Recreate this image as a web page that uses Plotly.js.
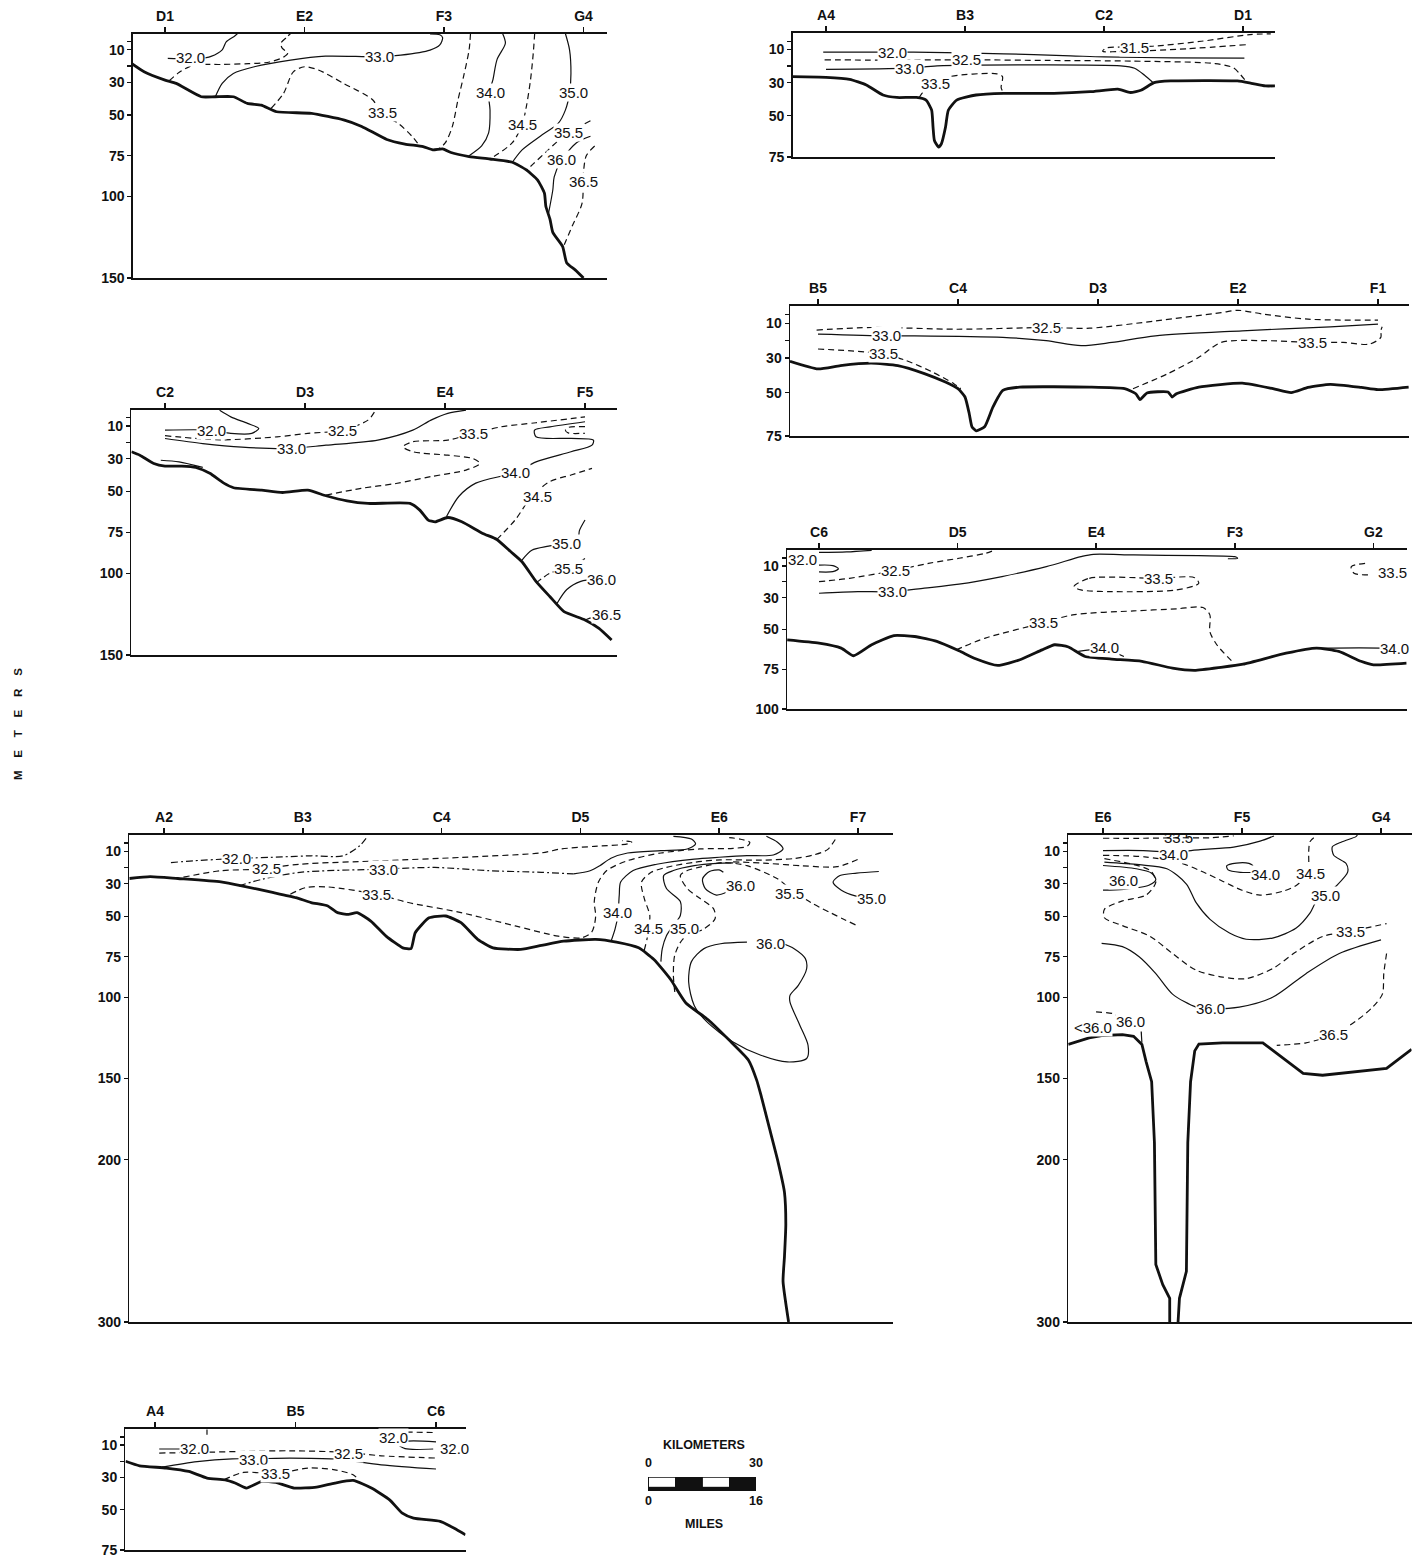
<!DOCTYPE html>
<html><head><meta charset="utf-8">
<script src="https://cdn.plot.ly/plotly-3.0.1.min.js"></script>
<style>html,body{margin:0;padding:0;background:#fff}#chart{width:1425px;height:1558px}</style>
</head><body><div id="chart"></div>
<script>
// ================= DATA (x = distance in station intervals, d = depth in metres) =================
// ---- Panel 1: D1-G4 ----
const p1_st = ['D1','E2','F3','G4'];
const p1_bot_x = [-0.24,-0.15,0,0.08,0.26,0.36,0.49,0.59,0.69,0.8,1.05,1.28,1.41,1.59,1.72,1.85,1.92,1.99,2.05,2.18,2.33,2.49,2.59,2.67,2.72,2.73,2.76,2.78,2.85,2.88,2.94,3.0];
const p1_bot_d = [18.4,23.5,28.6,30.6,38.8,38.8,38.8,42.9,43.9,48,49,53,57,65,67.8,69.4,71.4,70.8,73,75.5,77,79,83.7,89.8,98,106,114,122,130.6,140.8,145,150];
const p1_320_x = [0.02,0.25,0.33,0.41,0.44,0.5,0.52];
const p1_320_d = [15.3,15.3,14,10,5,1.5,0];
const p1_325_x = [0.03,0.1,0.2,0.4,0.6,0.75,0.85,0.88,0.84,0.83,0.87,0.9];
const p1_325_d = [29,24,19.5,19,18.5,17.5,14.5,12,9,6,2.5,0];
const p1_330_x = [0.36,0.41,0.49,0.64,0.9,1.15,1.53,1.69,1.9,1.97,1.99,1.97,1.9];
const p1_330_d = [39,30.6,24.5,20.4,16.3,13.9,14.3,13.3,10.2,7,2.5,0.8,0.2];
const p1_335a_x = [0.76,0.85,0.92,1.0,1.1,1.28,1.49,1.55,1.67,1.77,1.82];
const p1_335a_d = [46,36.7,23.5,20.4,22.4,30.6,40.8,49,55,63,68.4];
const p1_335b_x = [2.19,2.18,2.14,2.1,2.06,2.01,1.96];
const p1_335b_d = [0,10,26.5,40.8,57,67,71];
const p1_340_x = [2.42,2.44,2.38,2.35,2.32,2.33,2.32,2.27,2.18];
const p1_340_d = [0,6,16,28.6,37.3,47,61,69,75];
const p1_345_x = [2.65,2.64,2.62,2.59,2.56,2.49,2.33];
const p1_345_d = [0,12,28.6,45,56,67,77];
const p1_350_x = [2.87,2.9,2.91,2.9,2.87,2.82,2.69,2.56,2.49];
const p1_350_d = [0,10,24.5,36.7,47,55,63,71.4,79];
const p1_355_x = [3.05,2.95,2.87,2.74,2.64,2.59];
const p1_355_d = [53.5,58,62,72,80,84];
const p1_360_x = [3.05,2.95,2.84,2.79,2.78,2.75];
const p1_360_d = [63,67,78,88,96,110];
const p1_365_x = [3.08,3.02,3.0,2.99,2.92,2.86];
const p1_365_d = [69,75,85,104,118,130];
const p1_lab_t = ['32.0','33.0','33.5','34.0','34.5','35.0','35.5','36.0','36.5'];
const p1_lab_x = [0.18,1.54,1.56,2.33,2.56,2.93,2.89,2.84,3.0];
const p1_lab_d = [15,14,48.5,36,56,36.5,61,77,91];

// ---- Panel 2: A4-D1 ----
const p2_st = ['A4','B3','C2','D1'];
const p2_bot_x = [-0.24,0,0.17,0.29,0.41,0.51,0.65,0.72,0.76,0.77,0.78,0.81,0.83,0.86,0.88,0.94,1.08,1.28,1.64,1.9,2.1,2.19,2.27,2.36,2.48,2.96,3.06,3.16,3.23];
const p2_bot_d = [26.4,26.8,28,31.4,37.5,39,39,40.6,46.7,56.8,65,69,67,56.8,46.7,40.6,37.5,36.5,36.5,35.5,34,36,34.5,30,29,29,30.4,32,32];
const p2_315_x = [3.02,2.6,2.1,1.99,2.02,2.1,2.35,2.7,3.05,3.2];
const p2_315_d = [7.1,9.5,11.3,11,9,8.5,8,5,1,0.5];
const p2_320_x = [-0.02,0.48,0.63,1.28,1.76,2.0,2.5,3.01];
const p2_320_d = [11.6,11.6,11.6,12.6,13.8,14.5,15,15.2];
const p2_325_x = [-0.01,0.4,1.0,1.6,2.2,2.8,2.93,2.98,3.02];
const p2_325_d = [16.2,16.4,16.2,16.6,17,18.5,21,25,29];
const p2_330_x = [0,0.59,0.8,1.52,2.12,2.22,2.29,2.35];
const p2_330_d = [22,21.3,19.9,19.3,19.9,21.3,25.4,29.8];
const p2_335_x = [0.67,0.72,0.78,0.89,1.23,1.27,1.26,1.28];
const p2_335_d = [39,33.5,30.4,26.4,24.7,26.4,33,36.5];
const p2_lab_t = ['32.0','31.5','32.5','33.0','33.5'];
const p2_lab_x = [0.48,2.22,1.01,0.6,0.79];
const p2_lab_d = [11.6,8.5,16.3,21.6,30.4];

// ---- Panel 3: C2-F5 ----
const p3_st = ['C2','D3','E4','F5'];
const p3_bot_x = [-0.24,-0.18,-0.08,0,0.12,0.22,0.32,0.42,0.49,0.69,0.84,1.02,1.15,1.3,1.45,1.75,1.82,1.88,1.93,2.02,2.12,2.27,2.37,2.47,2.55,2.65,2.75,2.85,3.0,3.1,3.19];
const p3_bot_d = [25.8,27.9,33,34.6,34.6,35.4,39,45,47.8,49.3,50.7,49.3,52.7,55.8,57.4,57.4,61.5,67.6,68.6,66,68.6,75.7,79.4,86.9,93,105,114.4,123.5,128.6,133.7,140.8];
const p3_335s_x = [-0.03,0.1,0.27];
const p3_335s_d = [31,32,35.4];
const p3_320_x = [0,0.32,0.47,0.62,0.67,0.59,0.47,0.39];
const p3_320_d = [12.6,12.6,14.6,14.6,11.6,8.5,4.5,0.5];
const p3_325_x = [0,0.4,0.8,1.02,1.27,1.45,1.5];
const p3_325_d = [16,18.5,16.7,14.6,12.6,6.5,1];
const p3_330_x = [0,0.27,0.55,0.9,1.15,1.52,1.77,1.9,2.02,2.15];
const p3_330_d = [17.7,20.8,23,23.8,21.8,18.7,12.6,6.5,2.4,0.4];
const p3_335_x = [1.15,1.4,1.65,1.9,2.15,2.25,2.2,2.02,1.77,1.7,1.77,2.02,2.19,2.4,2.65,3.0];
const p3_335_d = [52.3,48.2,45.2,41,37,33,30,27.9,25.8,22.8,19.7,18.7,14.9,10.6,8.1,4.5];
const p3_340_x = [2.01,2.1,2.22,2.5,2.65,2.9,3.05,3.06,2.9,2.65,2.64,2.75,3.0];
const p3_340_d = [65.5,53,45,38.5,32,25.8,21.8,18.7,17.7,16.7,12.6,10.6,7.5];
const p3_345s_x = [3.0,2.88,2.86,2.88,3.0];
const p3_345s_d = [10.5,11,12.6,14.3,14.5];
const p3_345_x = [2.37,2.5,2.62,2.75,2.9,3.05];
const p3_345_d = [79.4,67.6,53,44,40,36];
const p3_350_x = [2.55,2.62,2.74,2.87,2.95,2.96,3.0];
const p3_350_d = [92,86,83.5,81.5,79,74,67.5];
const p3_355_x = [2.65,2.75,2.87,3.0];
const p3_355_d = [106,100,97,91];
const p3_360_x = [2.8,2.87,2.97,3.08];
const p3_360_d = [118.5,110,105,104];
const p3_365_x = [3.0,3.08];
const p3_365_d = [128.6,126];
const p3_lab_t = ['32.0','32.5','33.0','33.5','34.0','34.5','35.0','35.5','36.0','36.5'];
const p3_lab_x = [0.33,1.27,0.9,2.2,2.5,2.66,2.87,2.88,3.12,3.15];
const p3_lab_d = [12.6,12.6,23.8,14.8,38.5,53,82,97,104,125.5];

// ---- Panel 4: B5-F1 ----
const p4_st = ['B5','C4','D3','E2','F1'];
const p4_bot_x = [-0.2,0,0.16,0.38,0.57,0.76,0.91,1.0,1.05,1.08,1.1,1.13,1.19,1.25,1.32,1.44,1.94,2.19,2.27,2.3,2.35,2.5,2.53,2.56,2.72,3.03,3.25,3.38,3.5,3.66,3.88,4.0,4.22];
const p4_bot_d = [31.9,36.3,34.4,33,34.4,39,43.9,47.7,52.5,62,69.7,72,69.7,58.2,48.7,46.8,46.8,47.7,50.6,54,50.2,49.6,52.5,50.6,46.8,44.5,47.7,50,47,45.2,47,48.3,46.8];
const p4_325_x = [-0.01,0.38,1.0,1.63,1.94,2.41,2.88,3.0,3.19,3.5,4.0];
const p4_325_d = [13.9,12.4,13.4,12.4,12.8,8.6,3.8,2.5,4.8,7.6,8.2];
const p4_330_x = [0,0.49,0.69,1.32,1.63,1.88,2.1,2.41,3.03,3.66,4.0];
const p4_330_d = [16.2,17.2,17.2,18.1,20,22.9,21,17.2,14.3,12,10.5];
const p4_335a_x = [0,0.47,0.63,0.82,0.97,1.02];
const p4_335a_d = [24.8,27.7,31.5,38.2,44.8,47.7];
const p4_335b_x = [2.25,2.5,2.72,2.88,3.19,3.53,3.75,3.94,4.02,4.02,4.03];
const p4_335b_d = [47.7,39,29.6,21,20,21,21,22,18.1,14.3,12];
const p4_lab_t = ['32.5','33.0','33.5','33.5'];
const p4_lab_x = [1.63,0.49,0.47,3.53];
const p4_lab_d = [12.4,17.2,27.5,21];

// ---- Panel 5: C6-G2 ----
const p5_st = ['C6','D5','E4','F3','G2'];
const p5_bot_x = [-0.23,0,0.16,0.25,0.38,0.54,0.69,0.85,1.01,1.13,1.29,1.45,1.61,1.7,1.8,1.92,2.11,2.33,2.55,2.71,2.9,3.06,3.37,3.59,3.75,3.91,4.0,4.24];
const p5_bot_d = [56.5,58.6,61.7,66.5,59.6,53.8,54.4,57.5,63.4,68.4,72.6,69,62.8,59.6,61,67,68.6,70,74.3,75.7,73.8,71.8,64.9,61.7,63.8,70,72.2,71.1];
const p5_320_x = [0.0,0.1,0.14,0.1,0.0];
const p5_320_d = [9.5,9.8,11.8,13.6,13.8];
const p5_320s_x = [0.0,0.2,0.38];
const p5_320s_d = [1.5,1.2,0.2];
const p5_325_x = [0,0.22,0.54,0.79,1.01,1.2,1.26];
const p5_325_d = [19.9,17.8,13,8.4,5.2,2.1,0.3];
const p5_330_x = [0,0.28,0.52,0.76,1.01,1.32,1.64,1.89,1.98,2.27,2.74,3.0,3.02,2.95];
const p5_330_d = [27.2,26.2,26.2,24,21.5,16.7,10.5,4.2,2.7,3.1,3.6,4.2,5.2,5.5];
const p5_335l_x = [1.84,1.95,2.44,2.71,2.74,2.58,2.11,1.89,1.84];
const p5_335l_d = [23,17.8,17.8,17.4,21,25.1,26.2,25.1,23];
const p5_335_x = [0.99,1.2,1.61,1.83,2.27,2.58,2.77,2.82,2.82,2.87,2.98];
const p5_335_d = [62.8,55.4,46,40.8,38.3,37,36.2,40.8,51.3,59.6,70];
const p5_335g_x = [3.94,3.84,3.86,3.97];
const p5_335g_d = [8.4,10.5,14.6,15.7];
const p5_340a_x = [1.87,2.06,2.2];
const p5_340a_d = [63.8,62.5,67];
const p5_340b_x = [3.62,3.9,4.13];
const p5_340b_d = [61.7,61.5,61.7];
const p5_lab_t = ['32.0','32.5','33.0','33.5','33.5','34.0','34.0','33.5'];
const p5_lab_x = [-0.12,0.55,0.53,2.45,1.62,2.06,4.15,4.14];
const p5_lab_d = [6,13,26,17.8,45.5,61.5,61.7,14.2];

// ---- Panel 6: A2-F7 ----
const p6_st = ['A2','B3','C4','D5','E6','F7'];
const p6_bot_x = [-0.25,-0.1,0.1,0.41,0.56,0.79,0.95,1.06,1.18,1.25,1.33,1.39,1.49,1.6,1.72,1.78,1.81,1.91,2.03,2.14,2.26,2.37,2.57,2.72,2.88,3.11,3.26,3.42,3.53,3.65,3.76,3.92,4.07,4.21,4.27,4.3,4.36,4.42,4.47,4.48,4.47,4.46,4.5];
const p6_bot_d = [26.8,25.6,26.8,28.9,31.3,35.5,38.6,41.6,43.7,47.8,48.9,47.8,53,62.3,69.5,70,60.2,51,49.9,54,64.3,69.5,70.5,68,65.4,64.3,66,69.5,76.7,89,103.5,113.8,126.2,138.6,151,160,180,200,220,240,260,275,300];
const p6_320_x = [0.05,0.21,0.52,0.85,1.06,1.29,1.41,1.47];
const p6_320_d = [17,15.9,14.5,13.5,12.8,12.8,6.6,0.4];
const p6_325_x = [0.14,0.41,0.69,0.98,1.56,2.14,2.72,2.86,3.1,3.34,3.37,3.3];
const p6_325_d = [26,22,21,18,15.9,13.8,11,8.6,7,5.5,4.3,3.5];
const p6_330a_x = [0.54,0.71,0.98,1.58,1.95,2.34,2.72,2.95];
const p6_330a_d = [31.3,27.2,23,21,20,22,23,24];
const p6_330b_x = [2.95,3.07,3.14,3.22,3.34,3.58,3.77,3.83,3.8,3.67];
const p6_330b_d = [24,22,18.9,14.3,11.1,9.6,8.6,5.5,2.5,0.8];
const p6_335_x = [0.91,1.02,1.18,1.53,1.76,2.14,2.53,2.84,3.01,3.08,3.1,3.11,3.1,3.13,3.19,3.34,3.58,3.86,4.1,4.2,4.22,4.15,4.05];
const p6_335_d = [36.5,32.4,32,36.5,41.6,47.8,56,62.3,63.3,60,55.7,49.6,41,29,21.9,15.8,11.1,8.6,8.2,7,4.5,2.5,1.5];
const p6_340_x = [3.22,3.25,3.27,3.28,3.29,3.38,3.55,3.82,4.0,4.2,4.39,4.46,4.42,4.34];
const p6_340_d = [65.6,57.8,49.6,37,29,21.9,18,14.8,13.7,12.7,12.3,8.6,4.5,0.8];
const p6_345_x = [3.46,3.48,3.49,3.5,3.46,3.44,3.51,3.62,3.82,4.01,4.3,4.54,4.68,4.78,4.85];
const p6_345_d = [71,64,57.8,49.6,39,29,23,19.9,16.8,15.3,15.5,14.5,12.3,9,0.8];
const p6_350_x = [3.58,3.59,3.62,3.67,3.72,3.72,3.62,3.6,3.67,3.82,3.98,4.1];
const p6_350_d = [78,70,62,55.7,49.6,41,33,25,21.9,18.9,17.5,17.2];
const p6_35x_x = [4.1,4.35,4.6,4.85,5.0];
const p6_35x_d = [16.5,17.5,19,19.5,15];
const p6_355_x = [3.68,3.67,3.68,3.74,3.89,3.97,3.96,3.86,3.77,3.72,3.77,3.91,4.03,4.2,4.42,4.51,4.66,4.99];
const p6_355_d = [96.7,86.5,74,64,57.8,51.6,45.5,39,33,25,21.9,18.9,17,18.9,27,33,41.6,55.7];
const p6_360a_x = [4.06,3.98,3.9,3.88,3.93,4.0,4.03];
const p6_360a_d = [35,37,33,27,22.5,21.5,23];
const p6_360b_x = [4.2,4.01,3.89,3.8,3.78,3.82,3.91,4.1,4.3,4.49,4.63,4.64,4.58,4.51,4.51,4.57,4.63,4.62,4.54,4.45];
const p6_360b_d = [66,67,70,78,90.6,105,115,127.5,135.7,139.8,137.7,129.5,117,103,98.8,92.6,82.4,76,70,66.5];
const p6_350f_x = [5.15,4.99,4.87,4.82,4.88,4.98,5.02];
const p6_350f_d = [22.5,23.5,25,29,34,37.5,38];
const p6_lab_t = ['32.0','32.5','33.0','33.5','34.0','34.5','35.0','36.0','35.5','35.0','36.0'];
const p6_lab_x = [0.52,0.74,1.58,1.53,3.27,3.49,3.75,4.15,4.51,5.1,4.37];
const p6_lab_d = [14.5,20.5,21,36.5,47.5,57.8,57.8,31,36,39,66.6];

// ---- Panel 7: E6-G4 ----
const p7_st = ['E6','F5','G4'];
const p7_botL_x = [-0.25,-0.1,0,0.14,0.22,0.28,0.31,0.35,0.37,0.38,0.43,0.48,0.48];
const p7_botL_d = [129,125,123.5,123,124,129,139.6,152,189.6,264.6,277,285.4,300];
const p7_botR_x = [0.54,0.55,0.6,0.61,0.63,0.66,0.69,0.86,1.15,1.44,1.58,1.82,2.04,2.22];
const p7_botR_d = [300,285.4,268.8,189.6,152,133,128.75,128,128,146.9,148,145.8,143.75,132];
const p7_335t_x = [0,0.3,0.54,0.77,0.94];
const p7_335t_d = [2,2,1.7,1.7,0.5];
const p7_340_x = [0,0.29,0.51,0.7,0.94,1.13,1.23];
const p7_340_d = [9.6,9.6,10.5,9,7.5,3.75,0.6];
const p7_345_x = [0,0.3,0.55,0.7,0.85,1.0,1.13,1.3,1.4,1.47,1.48,1.48,1.49,1.54];
const p7_345_d = [12.5,13.5,17,22,28,34,37,34.5,30.5,23.5,18,10,4,0.3];
const p7_340l_x = [1.1,0.99,0.9,0.89,0.96,1.05,1.08];
const p7_340l_d = [23,23,21.5,19,17.3,17.5,19];
const p7_350_x = [0.01,0.26,0.46,0.6,0.67,0.77,0.91,1.03,1.22,1.39,1.49,1.53,1.6,1.68,1.76,1.75,1.66,1.65,1.72,1.82,1.83];
const p7_350_d = [16.7,18.3,20.8,30.2,41.7,52,60.4,64.2,63.5,57.3,48,41.7,37.5,31.25,22.9,17.7,12.5,7.3,4.2,1,0];
const p7_360s_x = [0,0.15,0.33,0.38,0.35,0.24,0.0];
const p7_360s_d = [34,33.5,31,27.5,23.5,20.8,18.8];
const p7_355_x = [0.01,0.34,0.38,0.31,0.14,0.01,0.01,0.14,0.34,0.5,0.67,0.86,1.03,1.22,1.39,1.58,1.77,2.04];
const p7_355_d = [14.6,21.9,29,37,40.6,45.8,51,55.8,62.5,73,83.3,87.5,88.5,82.3,71.9,62.5,59.4,54.6];
const p7_360_x = [-0.01,0.14,0.26,0.38,0.5,0.67,0.77,0.98,1.22,1.46,1.7,2.0];
const p7_360_d = [66.7,68.75,75,85.4,98,106,107,106,100,85.4,73,64.6];
const p7_365_x = [2.04,2.02,2.01,1.94,1.82,1.66,1.46,1.25];
const p7_365_d = [73,85.4,98,106,114.6,123,128,129.6];
const p7_360d_x = [-0.05,0.07,0.12];
const p7_360d_d = [109,110,112];
const p7_360v_x = [0.275,0.28];
const p7_360v_d = [121,128];
const p7_lab_t = ['33.5','34.0','34.0','34.5','36.0','35.0','33.5','36.0','36.5','36.0','<36.0'];
const p7_lab_x = [0.54,0.51,1.17,1.49,0.15,1.6,1.78,0.77,1.66,0.2,-0.07];
const p7_lab_d = [1.6,11.8,24.5,23.5,28,37.5,59.4,107,123,114.6,118.5];

// ---- Panel 8: A4-C6 ----
const p8_st = ['A4','B5','C6'];
const p8_bot_x = [-0.21,-0.11,0.08,0.24,0.37,0.5,0.57,0.65,0.76,0.86,0.99,1.15,1.28,1.41,1.54,1.67,1.76,1.84,2.03,2.13,2.21];
const p8_bot_d = [20,22.8,24.2,26.3,30.4,31.5,33.5,36.6,32.5,33.1,36.6,36,33.5,31.9,36.6,43.9,52.2,55.3,57.3,61.5,65.6];
const p8_320_x = [0.03,0.2];
const p8_320_d = [12.4,12.4];
const p8_320t_x = [0.37,0.37];
const p8_320t_d = [0.3,3.5];
const p8_325_x = [0.03,0.31,0.63,0.96,1.37,1.61,2.0];
const p8_325_d = [14.9,14.5,13.9,13.5,14.5,16.6,18];
const p8_330_x = [0.05,0.3,0.55,0.7,0.96,1.28,1.61,2.0];
const p8_330_d = [23.6,20.2,18.5,18.5,18,18.6,22.2,24.8];
const p8_335_x = [0.49,0.63,0.86,1.09,1.28,1.41,1.45];
const p8_335_d = [31.5,26.9,27.7,24.2,25.3,28.4,31.5];
const p8_320l_x = [2.0,1.8,1.73,1.78,1.98];
const p8_320l_d = [8,7.5,9.5,12.2,12.4];
const p8_320s_x = [1.72,2.0];
const p8_320s_d = [1.8,2.2];
const p8_lab_t = ['32.0','33.0','33.5','32.5','32.0','32.0'];
const p8_lab_x = [0.28,0.7,0.86,1.38,1.7,2.13];
const p8_lab_d = [11.8,19,27.5,15,5.5,12];

// depth tick values (labelled ones) and scale bar values
const depthLabels = [10,30,50,75,100,150,200,300];
const depthMinor = [5,20];
const scaleKm = [0,7.5,15,22.5,30];
const scaleText = {km:'KILOMETERS', mi:'MILES', km0:'0', km1:'30', mi0:'0', mi1:'16'};

// ================= LAYOUT CONFIG (pixel placement) =================
const W = 1425, H = 1558;
const FONT = '"Liberation Sans", Arial, sans-serif';
const INK = '#111';
const panels = [
  {st:p1_st, st0:165, sp:139.5, umin:-0.23, umax:3.17, top:33.5, bot:278,  dmax:150},
  {st:p2_st, st0:826, sp:139,   umin:-0.24, umax:3.23, top:33,   bot:157,  dmax:75},
  {st:p3_st, st0:165, sp:140,   umin:-0.24, umax:3.23, top:409.5,bot:655,  dmax:150},
  {st:p4_st, st0:818, sp:140,   umin:-0.2,  umax:4.22, top:306,  bot:436,  dmax:75},
  {st:p5_st, st0:819, sp:138.6, umin:-0.23, umax:4.24, top:550,  bot:709,  dmax:100},
  {st:p6_st, st0:164, sp:138.8, umin:-0.25, umax:5.25, top:835,  bot:1322, dmax:300},
  {st:p7_st, st0:1103,sp:139,   umin:-0.25, umax:2.22, top:835,  bot:1322, dmax:300},
  {st:p8_st, st0:155, sp:140.5, umin:-0.21, umax:2.21, top:1429, bot:1550, dmax:75}
];

const STY = {
  bottom:  {w:2.8, dash:'solid', shape:'spline', sm:0.5},
  bottomL: {w:2.8, dash:'solid', shape:'linear', sm:0},
  solid:   {w:1.2, dash:'solid', shape:'spline', sm:0.8},
  dash:    {w:1.2, dash:'6px,4px', shape:'spline', sm:0.8},
  dashdot: {w:1.2, dash:'7px,3px,2px,3px', shape:'spline', sm:0.8}
};

const lines = [
  [1,p1_bot_x,p1_bot_d,'bottom'],[1,p1_320_x,p1_320_d,'solid'],[1,p1_325_x,p1_325_d,'dash'],[1,p1_330_x,p1_330_d,'solid'],
  [1,p1_335a_x,p1_335a_d,'dash'],[1,p1_335b_x,p1_335b_d,'dash'],[1,p1_340_x,p1_340_d,'solid'],[1,p1_345_x,p1_345_d,'dash'],
  [1,p1_350_x,p1_350_d,'solid'],[1,p1_355_x,p1_355_d,'dash'],[1,p1_360_x,p1_360_d,'solid'],[1,p1_365_x,p1_365_d,'dash'],
  [2,p2_bot_x,p2_bot_d,'bottom'],[2,p2_315_x,p2_315_d,'dash'],[2,p2_320_x,p2_320_d,'solid'],[2,p2_325_x,p2_325_d,'dash'],
  [2,p2_330_x,p2_330_d,'solid'],[2,p2_335_x,p2_335_d,'dash'],
  [3,p3_bot_x,p3_bot_d,'bottom'],[3,p3_335s_x,p3_335s_d,'solid'],[3,p3_320_x,p3_320_d,'solid'],[3,p3_325_x,p3_325_d,'dash'],
  [3,p3_330_x,p3_330_d,'solid'],[3,p3_335_x,p3_335_d,'dash'],[3,p3_340_x,p3_340_d,'solid'],[3,p3_345s_x,p3_345s_d,'dash'],
  [3,p3_345_x,p3_345_d,'dash'],[3,p3_350_x,p3_350_d,'solid'],[3,p3_355_x,p3_355_d,'dash'],[3,p3_360_x,p3_360_d,'solid'],
  [3,p3_365_x,p3_365_d,'dash'],
  [4,p4_bot_x,p4_bot_d,'bottom'],[4,p4_325_x,p4_325_d,'dash'],[4,p4_330_x,p4_330_d,'solid'],[4,p4_335a_x,p4_335a_d,'dash'],
  [4,p4_335b_x,p4_335b_d,'dash'],
  [5,p5_bot_x,p5_bot_d,'bottom'],[5,p5_320_x,p5_320_d,'solid'],[5,p5_320s_x,p5_320s_d,'solid'],[5,p5_325_x,p5_325_d,'dash'],
  [5,p5_330_x,p5_330_d,'solid'],[5,p5_335l_x,p5_335l_d,'dash'],[5,p5_335_x,p5_335_d,'dash'],[5,p5_335g_x,p5_335g_d,'dash'],
  [5,p5_340a_x,p5_340a_d,'solid'],[5,p5_340b_x,p5_340b_d,'solid'],
  [6,p6_bot_x,p6_bot_d,'bottom'],[6,p6_320_x,p6_320_d,'dashdot'],[6,p6_325_x,p6_325_d,'dash'],[6,p6_330a_x,p6_330a_d,'dashdot'],
  [6,p6_330b_x,p6_330b_d,'solid'],[6,p6_335_x,p6_335_d,'dash'],[6,p6_340_x,p6_340_d,'solid'],[6,p6_345_x,p6_345_d,'dash'],
  [6,p6_350_x,p6_350_d,'solid'],[6,p6_35x_x,p6_35x_d,'dash'],[6,p6_355_x,p6_355_d,'dash'],[6,p6_360a_x,p6_360a_d,'solid'],
  [6,p6_360b_x,p6_360b_d,'solid'],[6,p6_350f_x,p6_350f_d,'solid'],
  [7,p7_botL_x,p7_botL_d,'bottomL'],[7,p7_botR_x,p7_botR_d,'bottomL'],[7,p7_335t_x,p7_335t_d,'dash'],[7,p7_340_x,p7_340_d,'solid'],
  [7,p7_345_x,p7_345_d,'dash'],[7,p7_340l_x,p7_340l_d,'solid'],[7,p7_350_x,p7_350_d,'solid'],[7,p7_360s_x,p7_360s_d,'solid'],
  [7,p7_355_x,p7_355_d,'dash'],[7,p7_360_x,p7_360_d,'solid'],[7,p7_365_x,p7_365_d,'dash'],[7,p7_360d_x,p7_360d_d,'dash'],
  [7,p7_360v_x,p7_360v_d,'solid'],
  [8,p8_bot_x,p8_bot_d,'bottom'],[8,p8_320_x,p8_320_d,'solid'],[8,p8_320t_x,p8_320t_d,'solid'],[8,p8_325_x,p8_325_d,'dash'],
  [8,p8_330_x,p8_330_d,'solid'],[8,p8_335_x,p8_335_d,'dash'],[8,p8_320l_x,p8_320l_d,'solid'],[8,p8_320s_x,p8_320s_d,'dash']
];
const labels = [
  [1,p1_lab_t,p1_lab_x,p1_lab_d],[2,p2_lab_t,p2_lab_x,p2_lab_d],[3,p3_lab_t,p3_lab_x,p3_lab_d],[4,p4_lab_t,p4_lab_x,p4_lab_d],
  [5,p5_lab_t,p5_lab_x,p5_lab_d],[6,p6_lab_t,p6_lab_x,p6_lab_d],[7,p7_lab_t,p7_lab_x,p7_lab_d],[8,p8_lab_t,p8_lab_x,p8_lab_d]
];

// ================= BUILD =================
const sfx = i => (i === 1 ? '' : String(i));
const traces = lines.map(([p, xs, ds, style]) => {
  const s = STY[style];
  return {type:'scatter', mode:'lines', x:xs, y:ds, xaxis:'x'+sfx(p), yaxis:'y'+sfx(p),
    line:{color:INK, width:s.w, dash:s.dash, shape:s.shape, smoothing:s.sm},
    hoverinfo:'skip', showlegend:false};
});

const layout = {width:W, height:H, margin:{l:0,r:0,t:0,b:0,pad:0}, paper_bgcolor:'#fff', plot_bgcolor:'#fff',
  showlegend:false, annotations:[], shapes:[], font:{family:FONT, color:INK}};

const tickFont = {family:FONT, size:14, color:INK, weight:700};
panels.forEach((c, k) => {
  const i = k + 1, s = sfx(i);
  const L = c.st0 + c.umin * c.sp, R = c.st0 + c.umax * c.sp;
  const tv = depthMinor.concat(depthLabels).filter(v => v <= c.dmax).sort((a,b) => a-b);
  const tt = tv.map(v => depthMinor.includes(v) ? '' : String(v));
  layout['xaxis'+s] = {domain:[L/W, R/W], range:[c.umin, c.umax], side:'top', anchor:'y'+s,
    tickmode:'array', tickvals:c.st.map((_, j) => j), ticktext:c.st, ticks:'outside', ticklen:5, tickwidth:1.5,
    tickcolor:INK, showline:true, linecolor:INK, linewidth:2, mirror:true, showgrid:false, zeroline:false,
    tickfont:tickFont, fixedrange:true};
  layout['yaxis'+s] = {domain:[1 - c.bot/H, 1 - c.top/H], range:[c.dmax, 0], anchor:'x'+s,
    tickmode:'array', tickvals:tv, ticktext:tt, ticks:'outside', ticklen:4, tickwidth:1.3, tickcolor:INK,
    showline:true, linecolor:INK, linewidth:1.5, showgrid:false, zeroline:false, tickfont:tickFont, fixedrange:true};
});

labels.forEach(([p, t, xs, ds]) => {
  t.forEach((txt, j) => {
    layout.annotations.push({xref:'x'+sfx(p), yref:'y'+sfx(p), x:xs[j], y:ds[j], text:txt, showarrow:false,
      xanchor:'center', yanchor:'middle',
      font:{family:FONT, size:15, color:INK}, bgcolor: ds[j] < 5 ? 'rgba(0,0,0,0)' : '#fff', borderpad:0});
  });
});

// scale bar (own km axis)
layout.xaxis9 = {domain:[648/W, 756/W], range:[0, 30], anchor:'y9', visible:false, fixedrange:true};
layout.yaxis9 = {domain:[1 - 1491/H, 1 - 1477/H], range:[0, 1], anchor:'x9', visible:false, fixedrange:true};
traces.push({type:'scatter', mode:'lines', x:[scaleKm[0], scaleKm[4]], y:[0.5, 0.5], xaxis:'x9', yaxis:'y9',
  line:{color:'rgba(0,0,0,0)', width:0}, hoverinfo:'skip', showlegend:false});
const sb = (x0, x1, y0, y1, fill, lw) => layout.shapes.push({type:'rect', xref:'x9', yref:'y9', x0, x1, y0, y1,
  fillcolor:fill, line:{color:INK, width:lw}});
sb(scaleKm[0], scaleKm[4], 0, 1, '#fff', 1.5);
sb(scaleKm[1], scaleKm[2], 0, 1, INK, 0);
sb(scaleKm[3], scaleKm[4], 0, 1, INK, 0);
sb(scaleKm[0], scaleKm[1], 0, 0.3, INK, 0);
sb(scaleKm[2], scaleKm[3], 0, 0.3, INK, 0);
[[scaleKm[0], -1.0, 1.9], [scaleKm[4], -1.0, 1.9], [scaleKm[2], -0.25, 1.25]].forEach(([x, y0, y1]) =>
  layout.shapes.push({type:'line', xref:'x9', yref:'y9', x0:x, x1:x, y0, y1, line:{color:INK, width:1.8}}));
const sfont = {family:FONT, size:12.5, color:INK, weight:700};
const sAnn = (x, ypx, text) => layout.annotations.push({xref:'x9', yref:'paper', x, y:1 - ypx/H, text,
  showarrow:false, xanchor:'center', yanchor:'middle', font:sfont});
sAnn(15.5, 1445, scaleText.km); sAnn(0, 1463, scaleText.km0); sAnn(30, 1463, scaleText.km1);
sAnn(0, 1501, scaleText.mi0); sAnn(30, 1501, scaleText.mi1); sAnn(15.5, 1524, scaleText.mi);

// vertical axis title
const nb = '\u00a0\u00a0\u00a0\u00a0';
layout.annotations.push({xref:'paper', yref:'paper', x:18/W, y:1 - 724/H, xanchor:'center', yanchor:'middle',
  textangle:-90, showarrow:false,
  text:['M','E','T','E','R','S'].join(nb), font:{family:FONT, size:11.5, color:INK, weight:700}});

Plotly.newPlot('chart', traces, layout, {staticPlot:true, displayModeBar:false});
</script></body></html>
